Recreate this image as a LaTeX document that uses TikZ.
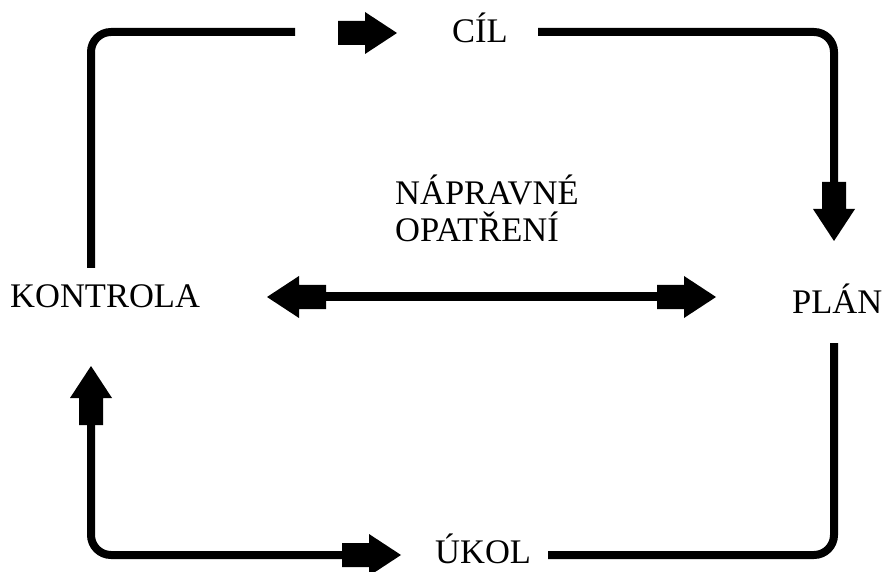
\documentclass[tikz,border=0pt]{standalone}
\usepackage{fontspec}
\setmainfont{Liberation Serif}
\begin{document}
\begin{tikzpicture}[x=1pt,y=-1pt,
  lbl/.style={inner sep=0pt,anchor=base west,font=\fontsize{34.5}{37}\selectfont},
  loop/.style={line width=8pt,rounded corners=20pt},
  mid/.style={line width=9pt},
  blockarrow/.pic={\fill (0,0) -- (-32,21) -- (-32,12) -- (-59,12) -- (-59,-12) -- (-32,-12) -- (-32,-21) -- cycle;}]
\useasboundingbox (0,0) rectangle (884,572);
% texts
\node[lbl] (cil) at (452,43) {CÍL};
\node[lbl] (plan) at (792,313) {PLÁN};
\node[lbl] (ukol) at (435,563) {ÚKOL};
\node[lbl] (kontrola) at (10,308) {KONTROLA};
\node[lbl,align=left,anchor=north west] (napr) at (395,175) {NÁPRAVNÉ\\OPATŘENÍ};
% coordinates
\coordinate (tl) at (91,32);
\coordinate (tr) at (834,32);
\coordinate (br) at (834,555);
\coordinate (bl) at (91,555);
\coordinate (a1) at (295,32);
\coordinate (a2) at (91,268);
\coordinate (b1) at (538,32);
\coordinate (b2) at (834,183);
\coordinate (c1) at (834,343);
\coordinate (c2) at (548,555);
\coordinate (d1) at (91,424);
\coordinate (d2) at (342,555);
\coordinate (topTip) at (397,33);
\coordinate (rTip) at (834,241);
\coordinate (bTip) at (401,555);
\coordinate (lTip) at (91,366);
\coordinate (mL) at (267,297);
\coordinate (mR) at (716,297);
% loop lines
\draw[loop] (a1) -- (tl) -- (a2);
\draw[loop] (b1) -- (tr) -- (b2);
\draw[loop] (c1) -- (br) -- (c2);
\draw[loop] (d1) -- (bl) -- (d2);
\draw[mid] ([xshift=40pt]mL) -- ([xshift=-40pt]mR);
% block arrow heads
\pic at (topTip) {blockarrow};
\pic[rotate=-90] at (rTip) {blockarrow};
\pic at (bTip) {blockarrow};
\pic[rotate=90] at (lTip) {blockarrow};
\pic[rotate=180] at (mL) {blockarrow};
\pic at (mR) {blockarrow};
\end{tikzpicture}
\end{document}
